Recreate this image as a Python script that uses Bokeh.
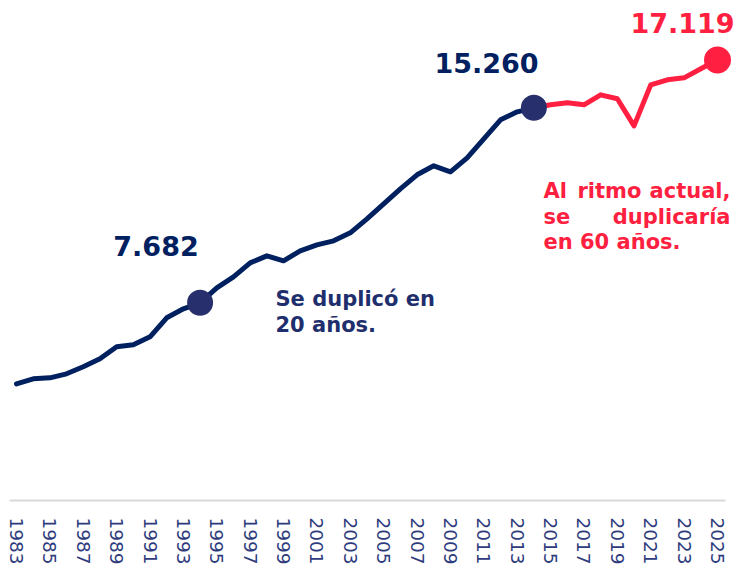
from bokeh.plotting import figure
from bokeh.models import Range1d, FixedTicker, Label
from bokeh.embed import file_html
from bokeh.resources import INLINE

# ---- data ----
years = list(range(1983, 2026))
values = [4534, 4729, 4767, 4923, 5195, 5506, 5972, 6050, 6361, 7099,
          7449, 7682, 8265, 8692, 9236, 9508, 9314, 9703, 9936, 10091,
          10402, 10946, 11529, 12112, 12656, 13006, 12773, 13317, 14055, 14793,
          15104, 15260, 15376, 15454, 15376, 15765, 15610, 14560, 16153, 16348,
          16425, 16775, 17119]
split_year = 2014
tick_years = list(range(1983, 2026, 2))
tick_labels = [str(y) for y in tick_years]
marker_years = [1994, 2014, 2025]
marker_labels = ["7.682", "15.260", "17.119"]

NAVY = "#00205f"
NAVY_DOT = "#27306c"
RED = "#ff1f40"
TEXT_NAVY = "#1f2f6e"
TICK_COL = "#2e3b7c"

idx = years.index(split_year)
hist_x, hist_y = years[:idx + 1], values[:idx + 1]
proj_x, proj_y = years[idx:], values[idx:]

W, H = 738, 571
ML, MR, MT, MB = 9, 1, 8, 71
FW = W - ML - MR
FH = H - MT - MB
YEAR_PX = 716 / 42.9
X0 = 1982.58
X1 = X0 + FW / YEAR_PX
AXIS_END = X0 + 716 / YEAR_PX
Y0, Y1 = 0, 19119

def px(page_x):
    return X0 + (page_x - ML) / FW * (X1 - X0)

def py(page_y):
    return Y0 + (H - MB - page_y) / FH * (Y1 - Y0)

p = figure(width=W, height=H, output_backend="svg", toolbar_location=None,
           x_range=Range1d(X0, X1), y_range=Range1d(Y0, Y1),
           y_axis_location=None, min_border_left=ML, min_border_right=MR,
           min_border_top=MT, min_border_bottom=MB)
p.outline_line_color = None
p.xgrid.visible = False
p.ygrid.visible = False
p.background_fill_color = "white"
p.border_fill_color = "white"

ax = p.xaxis[0]
ax.bounds = (X0, AXIS_END)
ax.ticker = FixedTicker(ticks=tick_years)
ax.major_label_overrides = {y: l for y, l in zip(tick_years, tick_labels)}
ax.major_label_orientation = "vertical"
ax.major_tick_line_color = None
ax.minor_tick_line_color = None
ax.major_tick_out = 0
ax.major_tick_in = 0
ax.major_label_standoff = 17
ax.axis_line_color = "#d9d9d9"
ax.axis_line_width = 2
ax.major_label_text_font = "DejaVu Sans"
ax.major_label_text_font_size = "18.5px"
ax.major_label_text_color = TICK_COL

p.line(hist_x, hist_y, line_color=NAVY, line_width=5, line_join="round", line_cap="round")
p.line(proj_x, proj_y, line_color=RED, line_width=5, line_join="round", line_cap="round")

mvals = [values[years.index(y)] for y in marker_years]
p.scatter(marker_years[:2], mvals[:2], size=26, fill_color=NAVY_DOT, line_color=None)
p.scatter(marker_years[2:], mvals[2:], size=27, fill_color=RED, line_color=None)

SHIFT = 10

def lab(text, x, page_y, color, size, align="left"):
    p.add_layout(Label(x=x, y=py(page_y - SHIFT), text=text, text_color=color,
                       text_font="DejaVu Sans", text_font_style="bold",
                       text_font_size=size, text_align=align,
                       text_baseline="alphabetic"))

# value labels
lab(marker_labels[0], px(155.5), 255, NAVY, "27px", "center")
lab(marker_labels[1], px(486), 72, NAVY, "27px", "center")
lab(marker_labels[2], px(682), 32, RED, "27px", "center")

# notes
lab("Se duplicó en", px(275), 308, TEXT_NAVY, "21px")
lab("20 años.", px(275), 334, TEXT_NAVY, "21px")

lab("Al", px(543), 200, RED, "21px")
lab("ritmo", px(577), 200, RED, "21px")
lab("actual,", px(730), 200, RED, "21px", "right")
lab("se", px(543), 226, RED, "21px")
lab("duplicaría", px(730), 226, RED, "21px", "right")
lab("en 60 años.", px(543), 251, RED, "21px")

open("out.html", "w").write(file_html(p, INLINE))
